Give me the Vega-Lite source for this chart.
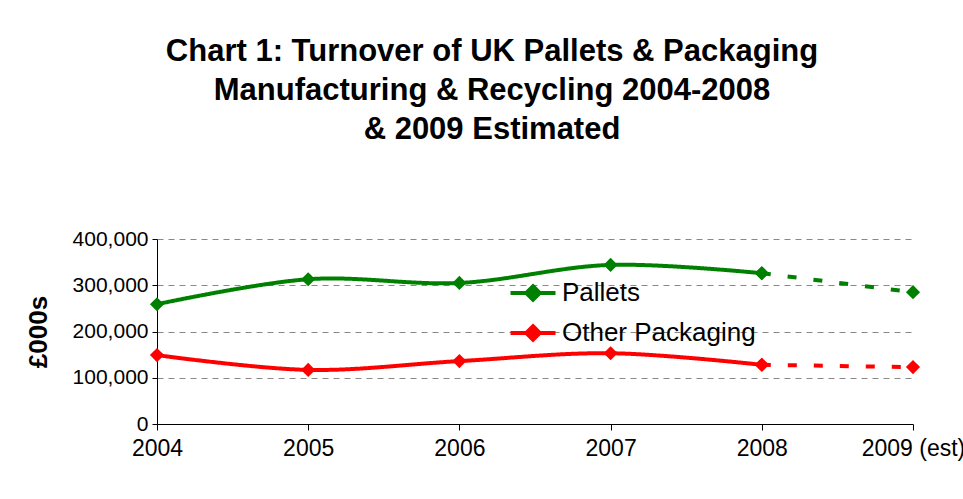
{
  "$schema": "https://vega.github.io/schema/vega-lite/v6.json",
  "width": 756,
  "height": 185,
  "autosize": "none",
  "padding": {"left": 157, "top": 239, "right": 50, "bottom": 75},
  "background": "white",
  "config": {
    "font": "Liberation Sans",
    "view": {"stroke": null}
  },
  "title": {
    "text": ["Chart 1: Turnover of UK Pallets & Packaging", "Manufacturing & Recycling 2004-2008", "& 2009 Estimated"],
    "fontSize": 31,
    "fontWeight": "bold",
    "lineHeight": 39,
    "color": "black",
    "anchor": "middle",
    "dx": -43,
    "offset": 82
  },
  "data": {
    "values": [
      {"series": "Pallets", "year": "2004", "value": 259000, "part": "actual"},
      {"series": "Pallets", "year": "2005", "value": 313000, "part": "actual"},
      {"series": "Pallets", "year": "2006", "value": 305000, "part": "actual"},
      {"series": "Pallets", "year": "2007", "value": 344000, "part": "actual"},
      {"series": "Pallets", "year": "2008", "value": 326000, "part": "actual"},
      {"series": "Pallets", "year": "2008", "value": 326000, "part": "est"},
      {"series": "Pallets", "year": "2009 (est)", "value": 285000, "part": "est"},
      {"series": "Other Packaging", "year": "2004", "value": 149000, "part": "actual"},
      {"series": "Other Packaging", "year": "2005", "value": 117000, "part": "actual"},
      {"series": "Other Packaging", "year": "2006", "value": 136000, "part": "actual"},
      {"series": "Other Packaging", "year": "2007", "value": 153000, "part": "actual"},
      {"series": "Other Packaging", "year": "2008", "value": 128000, "part": "actual"},
      {"series": "Other Packaging", "year": "2008", "value": 128000, "part": "est"},
      {"series": "Other Packaging", "year": "2009 (est)", "value": 123000, "part": "est"}
    ]
  },
  "encoding": {
    "x": {
      "field": "year",
      "type": "ordinal",
      "scale": {"type": "point", "padding": 0},
      "axis": {
        "title": null,
        "labelAngle": 0,
        "labelFontSize": 23,
        "labelColor": "black",
        "labelPadding": 7,
        "labelLimit": 300,
        "domainColor": "black",
        "tickColor": "black",
        "tickSize": 6,
        "grid": false
      }
    },
    "y": {
      "field": "value",
      "type": "quantitative",
      "scale": {"domain": [0, 400000]},
      "axis": {
        "title": "£000s",
        "titleFontSize": 26,
        "titleFontWeight": "bold",
        "titleColor": "black",
        "titlePadding": 21,
        "values": [0, 100000, 200000, 300000, 400000],
        "format": ",d",
        "labelFontSize": 21,
        "labelColor": "black",
        "labelPadding": 4,
        "domainColor": "black",
        "tickColor": "black",
        "tickSize": 5,
        "grid": true,
        "gridColor": "#888888",
        "gridDash": [6, 5],
        "gridWidth": 1
      }
    },
    "color": {
      "field": "series",
      "type": "nominal",
      "scale": {"domain": ["Pallets", "Other Packaging"], "range": ["#008000", "#ff0000"]},
      "legend": {
        "title": null,
        "orient": "none",
        "legendX": 359,
        "legendY": 37,
        "labelFontSize": 26,
        "labelLimit": 400,
        "labelColor": "black",
        "symbolType": "M-1.5,0H1.5M0,-0.45L0.45,0L0,0.45L-0.45,0Z",
        "symbolSize": 900,
        "symbolStrokeWidth": 4,
        "labelOffset": 12,
        "rowPadding": 8,
        "encode": {
          "symbols": {
            "update": {
              "fill": {"scale": "color", "field": "value"},
              "stroke": {"scale": "color", "field": "value"},
              "opacity": {"value": 1}
            }
          }
        }
      }
    }
  },
  "layer": [
    {
      "mark": {"type": "line", "strokeWidth": 4, "interpolate": "catmull-rom"},
      "encoding": {
        "strokeDash": {
          "field": "part",
          "type": "nominal",
          "scale": {"domain": ["actual", "est"], "range": [[1, 0], [9, 17]]},
          "legend": null
        }
      }
    },
    {
      "mark": {"type": "point", "shape": "diamond", "filled": true, "size": 200, "opacity": 1}
    }
  ]
}
